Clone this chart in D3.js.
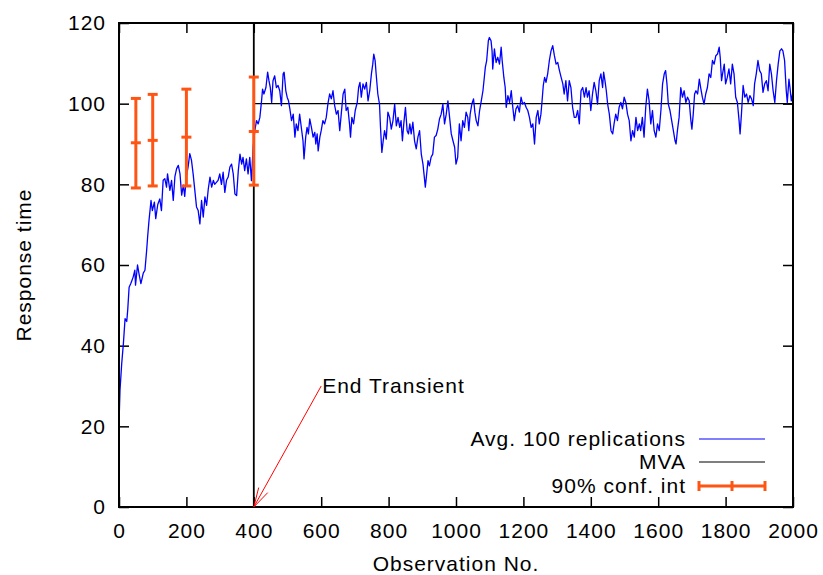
<!DOCTYPE html>
<html>
<head>
<meta charset="utf-8">
<script src="https://cdn.jsdelivr.net/npm/d3@7"></script>
<style>
  body { margin: 0; background: #fff; }
  svg { font-family: "Liberation Sans", Arial, sans-serif; }
  text { font-size: 21px; fill: #000; letter-spacing: 1px; }
</style>
</head>
<body>
<svg width="823" height="575"></svg>
<script>
var width = 823;
var height = 575;
var margin = { left: 119, right: 30, top: 23, bottom: 68 };

// response time, avg of 100 replications
var obs = [0, 3, 8, 13, 18, 23, 26, 30, 35, 42, 47, 49, 55, 59, 65, 72, 77, 82, 85, 89,
  95, 99, 105, 109, 115, 121, 126, 131, 136, 141, 144, 151, 156, 161, 166, 171, 176, 181, 186, 191,
  195, 200, 205, 210, 215, 220, 225, 230, 235, 240, 245, 250, 255, 260, 265, 270, 275, 280, 284, 294,
  299, 304, 309, 314, 319, 324, 329, 334, 339, 344, 349, 354, 359, 364, 368, 373, 378, 383, 388, 393,
  398, 403, 408, 413, 418, 423, 426, 430, 436, 441, 445, 449, 453, 457, 462, 467, 472, 477, 482, 487,
  490, 495, 499, 503, 507, 512, 517, 522, 526, 531, 536, 541, 546, 549, 554, 558, 562, 566, 571, 576,
  581, 584, 588, 591, 596, 600, 605, 610, 615, 620, 625, 630, 635, 640, 645, 650, 655, 660, 665, 670,
  674, 679, 684, 687, 691, 696, 701, 707, 711, 715, 719, 724, 729, 734, 739, 744, 749, 753, 756, 760,
  763, 768, 773, 776, 780, 784, 788, 793, 798, 803, 808, 813, 818, 823, 828, 833, 837, 841, 845, 850,
  855, 859, 863, 867, 872, 877, 882, 887, 892, 897, 902, 905, 909, 913, 917, 921, 926, 931, 936, 941,
  946, 951, 956, 961, 966, 971, 976, 981, 986, 991, 996, 1000, 1005, 1010, 1015, 1020, 1025, 1030, 1035, 1038,
  1042, 1047, 1052, 1056, 1060, 1065, 1070, 1075, 1080, 1084, 1087, 1091, 1096, 1099, 1104, 1107, 1109, 1114, 1119, 1124,
  1129, 1134, 1137, 1142, 1146, 1149, 1154, 1159, 1164, 1168, 1173, 1178, 1183, 1188, 1193, 1198, 1203, 1208, 1213, 1218,
  1223, 1228, 1233, 1238, 1243, 1247, 1252, 1255, 1259, 1263, 1267, 1272, 1277, 1282, 1287, 1292, 1297, 1302, 1307, 1312,
  1317, 1321, 1326, 1331, 1336, 1341, 1346, 1351, 1356, 1361, 1366, 1371, 1376, 1381, 1386, 1390, 1395, 1400, 1405, 1410,
  1415, 1420, 1425, 1430, 1435, 1438, 1442, 1446, 1450, 1455, 1460, 1465, 1469, 1474, 1479, 1484, 1489, 1494, 1499, 1504,
  1509, 1514, 1519, 1524, 1529, 1534, 1539, 1544, 1548, 1553, 1558, 1563, 1568, 1573, 1578, 1583, 1588, 1593, 1598, 1603,
  1608, 1613, 1618, 1622, 1626, 1630, 1635, 1640, 1645, 1650, 1653, 1657, 1662, 1667, 1672, 1677, 1682, 1687, 1692, 1697,
  1700, 1704, 1708, 1712, 1717, 1722, 1726, 1731, 1736, 1741, 1746, 1751, 1756, 1761, 1766, 1771, 1776, 1781, 1784, 1788,
  1791, 1796, 1800, 1805, 1810, 1815, 1820, 1825, 1830, 1835, 1840, 1843, 1847, 1852, 1857, 1862, 1867, 1872, 1877, 1882,
  1886, 1891, 1896, 1901, 1906, 1911, 1916, 1921, 1926, 1931, 1936, 1941, 1946, 1951, 1956, 1961, 1966, 1970, 1975, 1980,
  1983, 1988, 1991, 1995, 2000];
var resp = [20.7, 29, 35.5, 40.5, 46.7, 46, 49, 54.5, 55.4, 57, 58.7, 55, 60, 58, 55.4, 58, 58.7, 63.6, 67, 71,
  76, 73.5, 75.6, 71.5, 75, 76.4, 73.5, 81, 81.4, 79.3, 82.6, 78.5, 81, 76, 82, 83.9, 84.7, 82.6, 77.3, 79.8,
  77, 82, 84.3, 87.6, 86, 82.6, 78.5, 74.4, 73.5, 70.2, 76, 71.9, 76.9, 74.8, 78.9, 81.8, 79.3, 81, 80, 81,
  82.6, 80, 83, 78, 81, 81.8, 84.3, 85, 82.6, 77.6, 77.2, 83.4, 87.5, 85, 86.7, 83.4, 86.3, 82.6, 86.7, 80.9,
  89.2, 93.3, 95.8, 95, 96.6, 100.7, 103.6, 102.4, 104, 107.8, 105.7, 104, 100.3, 105.7, 106.9, 104, 104.5, 103.2, 99.5, 107.4,
  107.8, 103.2, 101.6, 100.7, 98.7, 95.8, 97.4, 91.7, 95, 93.3, 97.4, 94.1, 90.8, 86.3, 91.7, 94.1, 92.5, 96.2, 94.1, 91.7,
  92.9, 90, 92.5, 88.3, 91.7, 93.3, 95.8, 95, 96.6, 100, 102.4, 101.2, 103.2, 99.5, 97.4, 98.3, 93.3, 97.9, 102.4, 103.6,
  98.3, 99.1, 95, 91.7, 96.6, 95, 98.3, 100.3, 104, 105.3, 101.6, 104.9, 103.6, 105.3, 100.7, 103.2, 107.4, 109.8, 112.3, 110.7,
  107.4, 102.4, 99.9, 94.1, 87.9, 90.8, 93.3, 91.2, 97.9, 96.6, 93.7, 95.8, 99.9, 94.5, 96.6, 94.1, 95.8, 90.8, 95, 99.1,
  93.3, 92.5, 95, 92.5, 95.4, 90.8, 88.8, 91.7, 93.3, 87.5, 85, 82.6, 79.3, 82.6, 85.9, 84.6, 86.7, 87.5, 91.7, 92.1,
  93.7, 96.2, 97.4, 99.9, 95, 97.4, 100.7, 96.6, 92.5, 90.8, 89.2, 85, 86.7, 95, 90.8, 95.8, 94.1, 97.9, 96.6, 93.3,
  97.4, 99.9, 101.2, 97.9, 95.8, 94.5, 98.3, 100.7, 103.2, 106.5, 109, 110.7, 115.6, 116.4, 115.6, 113.1, 108.6, 113.6, 110.2, 111.5,
  109.8, 114, 110.7, 106.5, 104, 99.1, 102, 100.3, 103.2, 99.5, 95.8, 98.7, 99.5, 97.9, 101.6, 99.9, 100.3, 99.1, 98.3, 96.6,
  94.1, 95, 90, 96.6, 98.3, 95, 97.4, 100.3, 104.5, 106.5, 105.3, 107.4, 110.7, 113.1, 114.4, 111.9, 109.8, 110.2, 108.2, 106.5,
  104.9, 102.4, 105.7, 100.7, 105.7, 104, 99.1, 96.6, 96.6, 98.3, 95, 103.2, 104, 101.6, 104, 101.6, 103.2, 98.3, 102.4, 105.3,
  103.2, 99.9, 105.7, 107.4, 104, 107.8, 105.7, 103.2, 99.9, 97.4, 93.3, 92.5, 95, 97.4, 95.8, 99.1, 100.3, 98.7, 101.6, 100.3,
  97.4, 95.8, 90.8, 93.3, 91.7, 96.6, 93.3, 95, 93.3, 96.6, 91.7, 99.1, 103.6, 100.7, 95, 98.3, 93.3, 91.7, 95, 93.3,
  98.3, 104.9, 107.4, 108.2, 104.9, 99.9, 98.3, 95.8, 93.3, 90.8, 90, 93.3, 96.6, 104, 101.6, 103.2, 100.3, 101.6, 100.7, 95.8,
  93.7, 97.4, 102.4, 103.2, 102.4, 106.1, 104, 101.6, 99.9, 102.4, 104, 107.4, 106.5, 110.7, 109.8, 111.9, 112.3, 114, 111.5, 105.7,
  107.4, 109.8, 104.9, 106.5, 108.6, 104.9, 109.8, 107.4, 101.6, 100.3, 95.8, 92.5, 97.4, 104.5, 101.6, 102.4, 100.3, 102, 101.2, 99.5,
  104.9, 107.4, 110.7, 108.2, 107.4, 102.8, 104.9, 105.7, 103.2, 109.8, 107.4, 103.2, 100.3, 105.7, 109.8, 113.1, 113.6, 113.1, 110.7, 103.2,
  100.3, 106.1, 104, 100.7, 103];

// MVA result and transient end
var mvaValue = 100;
var transientEnd = 400;

// 90% confidence intervals
var ciObs = [50, 100, 200, 400];
var ciLow = [79.1, 79.6, 79.6, 79.8];
var ciMid = [90.3, 90.9, 91.7, 93.1];
var ciHigh = [101.3, 102.3, 103.6, 106.6];

var xTicks = d3.range(0, 2001, 200);
var yTicks = d3.range(0, 121, 20);

var legendLabels = ["Avg. 100 replications", "MVA", "90% conf. int"];

var ciColor = "#ff5514";

var svg = d3.select("svg");

var xScale = d3.scaleLinear()
  .domain([0, 2000])
  .range([margin.left, width - margin.right]);
var yScale = d3.scaleLinear()
  .domain([0, 120])
  .range([height - margin.bottom, margin.top]);

// axes, ticks point inward like gnuplot, mirrored on top/right
var xAxis = d3.axisBottom(xScale).tickValues(xTicks).tickSize(-10).tickPadding(16).tickFormat(d3.format("d"));
var yAxis = d3.axisLeft(yScale).tickValues(yTicks).tickSize(-10).tickPadding(13).tickFormat(d3.format("d"));

svg.append("g")
  .attr("transform", `translate(0, ${height - margin.bottom})`)
  .call(xAxis);
svg.append("g")
  .attr("transform", `translate(${margin.left}, 0)`)
  .call(yAxis);
svg.append("g")
  .attr("transform", `translate(0, ${margin.top})`)
  .call(d3.axisTop(xScale).tickValues(xTicks).tickSize(-10).tickFormat(""));
svg.append("g")
  .attr("transform", `translate(${width - margin.right}, 0)`)
  .call(d3.axisRight(yScale).tickValues(yTicks).tickSize(-10).tickFormat(""));

svg.selectAll(".domain").remove();
svg.selectAll(".tick line").attr("stroke", "#000").attr("stroke-width", 1.5);
svg.selectAll(".tick text")
  .attr("fill", "#000")
  .style("font-size", "21px")
  .style("letter-spacing", "1px")
  .style("font-family", "'Liberation Sans', Arial, sans-serif");

// MVA lines
svg.append("line")
  .attr("x1", xScale(transientEnd)).attr("x2", xScale(2000))
  .attr("y1", yScale(mvaValue)).attr("y2", yScale(mvaValue))
  .attr("stroke", "#000").attr("stroke-width", 1.2);
svg.append("line")
  .attr("x1", xScale(transientEnd)).attr("x2", xScale(transientEnd))
  .attr("y1", yScale(0)).attr("y2", yScale(120))
  .attr("stroke", "#000").attr("stroke-width", 1.8);

// the simulated response time
var line = d3.line()
  .x((d, i) => xScale(obs[i]))
  .y((d) => yScale(d));
svg.append("path")
  .datum(resp)
  .attr("d", line)
  .attr("fill", "none")
  .attr("stroke", "#0000ff")
  .attr("stroke-width", 1.3)
  .attr("stroke-linejoin", "round");

// error bars
var bars = svg.append("g").attr("stroke", ciColor).attr("stroke-width", 3);
ciObs.forEach(function (o, i) {
  var x = xScale(o);
  bars.append("line")
    .attr("x1", x).attr("x2", x)
    .attr("y1", yScale(ciLow[i])).attr("y2", yScale(ciHigh[i]));
  [ciLow[i], ciMid[i], ciHigh[i]].forEach(function (v) {
    bars.append("line")
      .attr("x1", x - 5).attr("x2", x + 5)
      .attr("y1", yScale(v)).attr("y2", yScale(v));
  });
});

// frame
svg.append("rect")
  .attr("x", margin.left).attr("y", margin.top)
  .attr("width", width - margin.left - margin.right)
  .attr("height", height - margin.top - margin.bottom)
  .attr("fill", "none").attr("stroke", "#000").attr("stroke-width", 2);

// arrow to end of transient
var ax0 = xScale(600), ay0 = yScale(30);
var ax1 = xScale(transientEnd), ay1 = yScale(0);
var ang = Math.atan2(ay0 - ay1, ax0 - ax1);
var headLen = 20, headAng = 15 * Math.PI / 180;
var arrow = svg.append("g").attr("stroke", "#ff0000").attr("stroke-width", 1).attr("fill", "none");
arrow.append("line").attr("x1", ax0).attr("y1", ay0).attr("x2", ax1).attr("y2", ay1);
[-headAng, headAng].forEach(function (a) {
  arrow.append("line")
    .attr("x1", ax1).attr("y1", ay1)
    .attr("x2", ax1 + headLen * Math.cos(ang + a))
    .attr("y2", ay1 + headLen * Math.sin(ang + a));
});
svg.append("text")
  .attr("x", ax0 + 1)
  .attr("y", ay0)
  .attr("dy", "0.35em")
  .text("End Transient");

// axis titles
svg.append("text")
  .attr("x", (margin.left + width - margin.right) / 2)
  .attr("y", height - 4)
  .style("text-anchor", "middle")
  .text("Observation No.");
svg.append("text")
  .attr("transform", "rotate(-90)")
  .attr("x", -(margin.top + height - margin.bottom) / 2)
  .attr("y", 24)
  .attr("dy", "0.35em")
  .style("text-anchor", "middle")
  .text("Response time");

// legend
var legY = [439, 462, 486];
var lx0 = 699, lx1 = 765;
legendLabels.forEach(function (t, i) {
  svg.append("text")
    .attr("x", 686)
    .attr("y", legY[i])
    .attr("dy", "0.35em")
    .style("text-anchor", "end")
    .text(t);
});
svg.append("line").attr("x1", lx0).attr("x2", lx1).attr("y1", legY[0]).attr("y2", legY[0])
  .attr("stroke", "#0000ff").attr("stroke-width", 1.1);
svg.append("line").attr("x1", lx0).attr("x2", lx1).attr("y1", legY[1]).attr("y2", legY[1])
  .attr("stroke", "#000").attr("stroke-width", 1.1);
var legBar = svg.append("g").attr("stroke", ciColor).attr("stroke-width", 3);
legBar.append("line").attr("x1", lx0).attr("x2", lx1).attr("y1", legY[2]).attr("y2", legY[2]);
[lx0, (lx0 + lx1) / 2, lx1].forEach(function (x) {
  legBar.append("line").attr("x1", x).attr("x2", x).attr("y1", legY[2] - 5).attr("y2", legY[2] + 5);
});
</script>
</body>
</html>
